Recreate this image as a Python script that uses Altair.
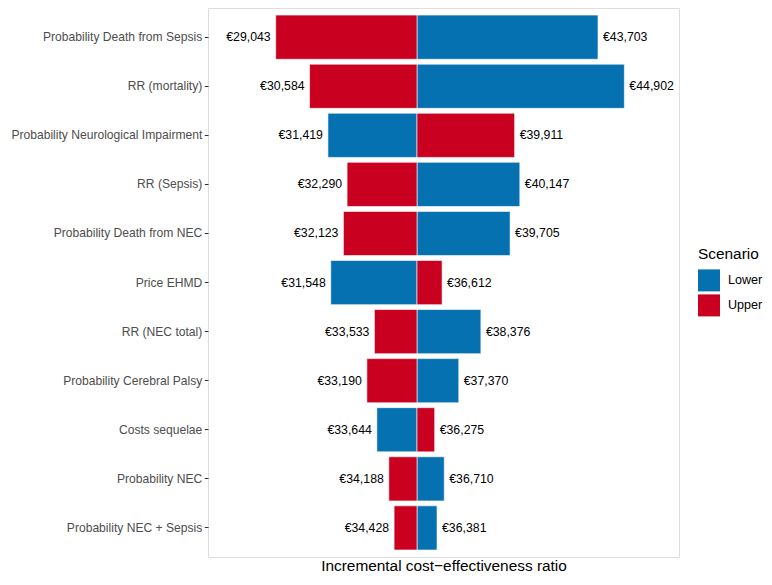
import altair as alt
import pandas as pd

params = [
    "Probability Death from Sepsis",
    "RR (mortality)",
    "Probability Neurological Impairment",
    "RR (Sepsis)",
    "Probability Death from NEC",
    "Price EHMD",
    "RR (NEC total)",
    "Probability Cerebral Palsy",
    "Costs sequelae",
    "Probability NEC",
    "Probability NEC + Sepsis",
]
lower_vals = [43703, 44902, 31419, 40147, 39705, 31548, 38376, 37370, 33644, 36710, 36381]
upper_vals = [29043, 30584, 39911, 32290, 32123, 36612, 33533, 33190, 36275, 34188, 34428]
base_icer = 35470

rows = []
for p, lo, up in zip(params, lower_vals, upper_vals):
    for scen, v in (("Lower", lo), ("Upper", up)):
        rows.append({
            "param": p,
            "Scenario": scen,
            "value": v,
            "base": base_icer,
            "side": "left" if v < base_icer else "right",
        })
df = pd.DataFrame(rows)

FONT = "Liberation Sans"

y_enc = alt.Y(
    "param:N",
    sort=params,
    scale=alt.Scale(range=[7.1, 542.0], paddingInner=0.1, paddingOuter=0),
    axis=alt.Axis(
        title=None,
        labelFontSize=12.1,
        labelColor="#4D4D4D",
        labelFont=FONT,
        labelLimit=400,
        labelPadding=2.5,
        tickColor="#333333",
        tickSize=3.7,
        domain=False,
        grid=False,
    ),
)
x_scale = alt.Scale(domain=[25964, 47387], nice=False, zero=False)

bars = alt.Chart(df).mark_bar(stroke="white", strokeWidth=0.6).encode(
    y=y_enc,
    x=alt.X(
        "value:Q",
        scale=x_scale,
        axis=alt.Axis(
            title="Incremental cost\u2212effectiveness ratio",
            titleFont=FONT,
            titleFontSize=15.4,
            titleFontWeight="normal",
            titleColor="black",
            titlePadding=1,
            labels=False,
            ticks=False,
            domain=False,
            grid=False,
        ),
    ),
    x2="base:Q",
    color=alt.Color(
        "Scenario:N",
        scale=alt.Scale(domain=["Lower", "Upper"], range=["#0571B0", "#CA0020"]),
        legend=alt.Legend(
            title="Scenario",
            orient="none",
            legendX=490,
            legendY=239,
            padding=0,
            titleFont=FONT,
            titleFontSize=15.4,
            titleFontWeight="normal",
            titleColor="black",
            titlePadding=7,
            labelFont=FONT,
            labelFontSize=12.6,
            labelColor="black",
            labelOffset=8,
            symbolType="square",
            symbolSize=484,
            symbolStrokeWidth=0,
            symbolOpacity=1,
            rowPadding=3,
        ),
    ),
)

base_text = alt.Chart(df).transform_calculate(
    label="'\u20ac' + format(datum.value, ',')"
)

left_text = base_text.transform_filter(alt.datum.side == "left").mark_text(
    align="right", baseline="middle", dx=-5, fontSize=12.3, font=FONT, color="black"
).encode(y=alt.Y("param:N", sort=params), x=alt.X("value:Q", scale=x_scale), text="label:N")

right_text = base_text.transform_filter(alt.datum.side == "right").mark_text(
    align="left", baseline="middle", dx=5, fontSize=12.3, font=FONT, color="black"
).encode(y=alt.Y("param:N", sort=params), x=alt.X("value:Q", scale=x_scale), text="label:N")

chart = (
    alt.layer(bars, left_text, right_text)
    .properties(
        width=471,
        height=549,
        autosize=alt.AutoSizeParams(type="none"),
        padding={"left": 200, "top": 0, "right": 85, "bottom": 17},
    )
    .configure_view(stroke="#555555", strokeWidth=1, fill="white")
    .configure(background="white")
)

chart.save("out.html", embed_options={"renderer": "svg", "actions": False})
